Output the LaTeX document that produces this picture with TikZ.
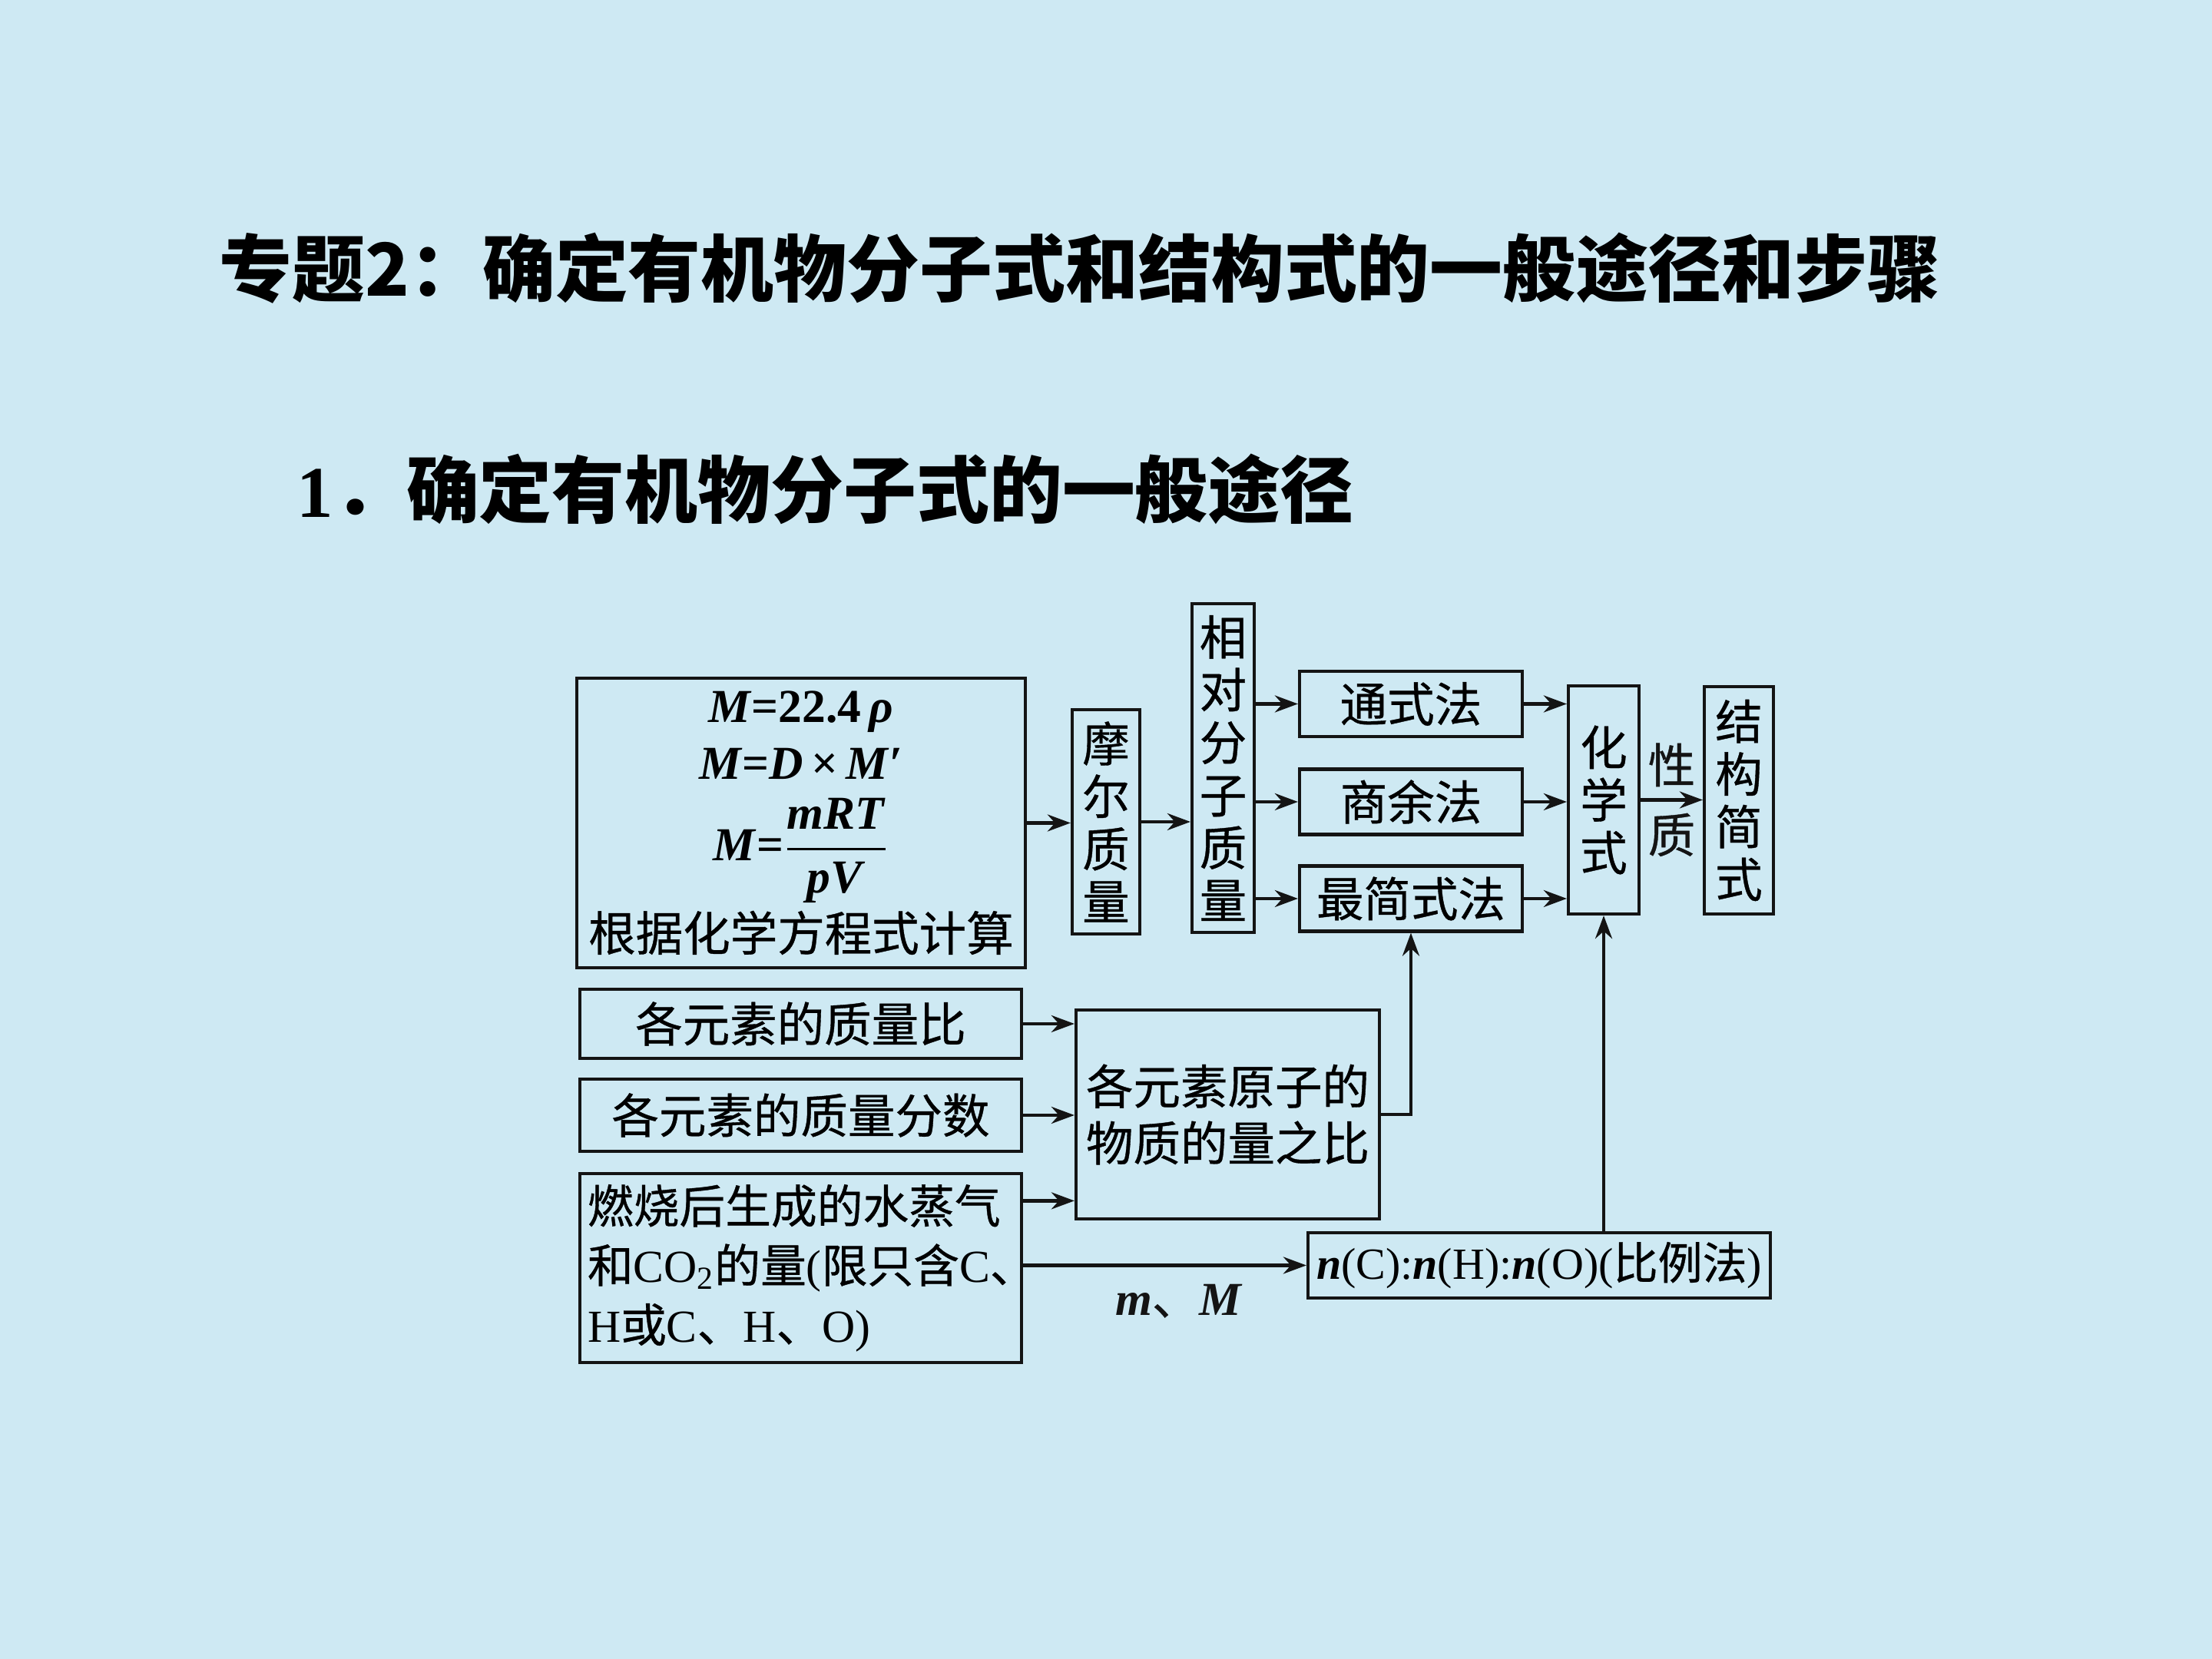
\documentclass[tikz,border=0pt]{standalone}
\usepackage{amsmath}
\usepackage{fontspec}
\usepackage{tikz}
\usetikzlibrary{arrows.meta, positioning, calc}
\setmainfont{Liberation Serif}
\newfontfamily\cjk{Noto Sans CJK SC}[FakeBold=0.6]
\newfontfamily\cjkhead{Noto Sans CJK SC}
\newcommand{\zh}[1]{{\cjk #1}}
\definecolor{slide}{HTML}{CEE9F3}
\definecolor{ink}{HTML}{141414}

\begin{document}
\begin{tikzpicture}[
    box/.style={rectangle, draw=ink, line width=1.2pt, inner sep=2pt, align=center, font=\fontsize{17.5}{21}\selectfont\cjk},
    vbox/.style={box, font=\fontsize{17.5}{19.5}\selectfont\cjk},
    flowarrow/.style={-{Stealth[length=3mm, width=2.2mm]}, line width=1.2pt, color=ink},
  ]
  % slide background
  \fill[slide] (0,0) rectangle (28.8,21.6);
  \useasboundingbox (0,0) rectangle (28.8,21.6);

  % headings
  \node[anchor=west, inner sep=0pt, font=\fontsize{27}{30}\selectfont\cjkhead\bfseries] (title) at (2.85,18.11)
    {专题2：确定有机物分子式和结构式的一般途径和步骤};
  \node[anchor=west, inner sep=0pt, font=\fontsize{27}{30}\selectfont\cjkhead\bfseries] (subtitle) at (3.86,15.23)
    {{\rmfamily\bfseries 1}．确定有机物分子式的一般途径};

  % upper row
  \node[box, minimum width=5.84cm, minimum height=3.77cm, font=\fontsize{17.5}{19}\selectfont] (fbox) at (10.43,10.885)
    {\textbf{\textit{M}=22.4\,\textit{ρ}}\\[2pt]
     \textbf{\textit{M}=\textit{D}\,×\,\textit{M}′}\\[6pt]
     $\textbf{\textit{M}=}\dfrac{\textbf{\textit{mRT}}}{\textbf{\textit{pV}}}$\\[2pt]
     \zh{根据化学方程式计算}};
  \node[vbox, minimum width=0.88cm, minimum height=2.92cm] (mol) at (14.40,10.90) {摩\\尔\\质\\量};
  \node[vbox, minimum width=0.81cm, minimum height=4.28cm] (xd) at (15.925,11.60) {相\\对\\分\\子\\质\\量};
  \node[box, minimum width=2.90cm, minimum height=0.85cm] (tsf) at (18.37,12.435) {通式法};
  \node[box, minimum width=2.90cm, minimum height=0.85cm] (syf) at (18.37,11.16) {商余法};
  \node[box, minimum width=2.90cm, minimum height=0.85cm] (zjf) at (18.37,9.90) {最简式法};
  \node[vbox, minimum width=0.92cm, minimum height=2.97cm] (hxs) at (20.88,11.185) {化\\学\\式};
  \node[vbox, minimum width=0.90cm, minimum height=2.96cm] (jgjs) at (22.64,11.18) {结\\构\\简\\式};

  % lower part
  \node[box, minimum width=5.75cm, minimum height=0.90cm] (zlb) at (10.425,8.27) {各元素的质量比};
  \node[box, minimum width=5.75cm, minimum height=0.94cm] (zlfs) at (10.425,7.08) {各元素的质量分数};
  \node[box, minimum width=5.75cm, minimum height=2.46cm, text width=5.55cm, align=left, font=\fontsize{17}{22}\selectfont] (rs) at (10.425,5.09)
    {\zh{燃烧后生成的水蒸气}\\
     \zh{和}CO\textsubscript{2}\zh{的量}(\zh{限只含}C\zh{、}\\
     H\zh{或}C\zh{、}H\zh{、}O)};
  \node[box, minimum width=3.95cm, minimum height=2.72cm] (yzb) at (15.985,7.09) {各元素原子的\\物质的量之比};
  \node[box, minimum width=6.02cm, minimum height=0.85cm, font=\fontsize{16.5}{20}\selectfont] (bll) at (20.04,5.125)
    {\textbf{\textit{n}}(C):\textbf{\textit{n}}(H):\textbf{\textit{n}}(O)(\zh{比例法})};

  % connectors
  \draw[flowarrow] (fbox.east) -- (fbox.east -| mol.west);
  \draw[flowarrow] (mol.east) -- (mol.east -| xd.west);
  \draw[flowarrow] (tsf.west -| xd.east) -- (tsf.west);
  \draw[flowarrow] (syf.west -| xd.east) -- (syf.west);
  \draw[flowarrow] (zjf.west -| xd.east) -- (zjf.west);
  \draw[flowarrow] (tsf.east) -- (tsf.east -| hxs.west);
  \draw[flowarrow] (syf.east) -- (syf.east -| hxs.west);
  \draw[flowarrow] (zjf.east) -- (zjf.east -| hxs.west);
  \draw[flowarrow] (hxs.east) -- (hxs.east -| jgjs.west)
    node[midway, above=1pt, font=\fontsize{17.5}{21}\selectfont\cjk] (xz1) {性}
    node[midway, below=1pt, font=\fontsize{17.5}{21}\selectfont\cjk] (xz2) {质};
  \draw[flowarrow] (zlb.east) -- (zlb.east -| yzb.west);
  \draw[flowarrow] (zlfs.east) -- (zlfs.east -| yzb.west);
  \coordinate (rsout) at ($(rs.north east)!0.15!(rs.south east)$);
  \draw[flowarrow] (rsout) -- (rsout -| yzb.west);
  \draw[flowarrow] (yzb.east) -| (zjf.south);
  \draw[flowarrow] (bll.west -| rs.east) -- (bll.west)
    node[pos=0.55, below=3pt, font=\fontsize{17.5}{21}\selectfont] (mm) {\textbf{\textit{m}}\zh{、}\textbf{\textit{M}}};
  \draw[flowarrow] (bll.north -| hxs.south) -- (hxs.south);
\end{tikzpicture}
\end{document}
